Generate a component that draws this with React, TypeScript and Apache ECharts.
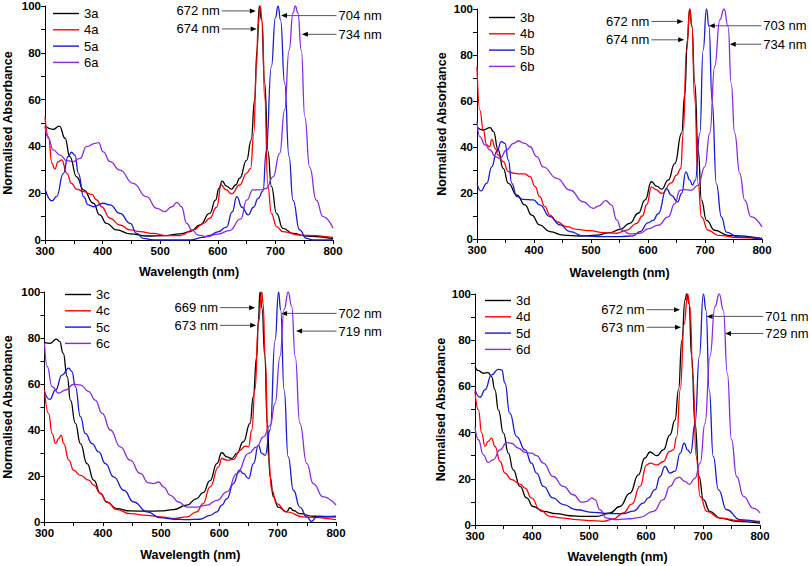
import React, { useEffect, useRef } from "react";
import * as echarts from "echarts";

type P = [number, number][];

// ---------- Panel a ----------
const s3a: P = [[300,48.7],[314,47.3],[325,48.7],[335,43.4],[343,35.6],[355,27],[367,21.4],[384,15.7],[395,10.7],[407,7.1],[424,4.3],[448,2.6],[476,1.7],[511,1.9],[534,2.6],[552,3.6],[569,6.4],[586,11.4],[596,17],[602,22],[607.5,25.2],[615,23],[623.7,21.7],[631,23.5],[638,26.4],[650,34],[658,42.7],[664,60],[668,81],[672,100],[676,94],[681.5,67],[687,38],[693,23],[702,11.4],[713,5],[730.6,2.8],[754,1.7],[800,0.6]];
const s4a: P = [[300,52.7],[306,44.2],[312,32.8],[317,30.3],[323,33.5],[329,34.2],[338,28.5],[346,24.2],[355,21.7],[367,20.7],[381,19.5],[390,17.1],[398,14.2],[413,9.3],[430,6.4],[448,4.3],[465,3.6],[488,2.8],[511,1.9],[534,1.9],[558,4.3],[575,7.1],[586,9.3],[598,14],[606,23.5],[614,21.5],[624,19.7],[638,23.5],[650,28.5],[657,30.6],[662.5,45.6],[667,74],[670,92],[673.5,100],[677,94],[681.5,60],[687,22.8],[693,11.4],[702,5.7],[713,3.6],[742,2.1],[800,1.1]];
const s5a: P = [[300,22],[312,16.7],[320,18.5],[332,28.5],[340,35.6],[346,37.5],[352,36.3],[358,28.5],[367,18.5],[375,15],[384,14.2],[401,15.7],[413,15],[430,11.4],[448,7.1],[459,2.8],[471,0.7],[488,0],[523,0],[552,0],[575,1.1],[586,2],[600,3.5],[615,5.5],[625,12],[633,18.5],[642,14],[652.6,10.7],[662,14],[670,17.8],[678.6,21],[684,38],[693,74],[700,95],[704.6,100],[709,94],[716,67],[723.7,35.6],[730.6,17],[742,4.3],[754,0.7],[765,0],[800,0]];
const s6a: P = [[300,48.4],[306,43.4],[314,38.5],[326,36.3],[338,33.9],[349,33.5],[361,34.9],[372,39.9],[387,41.3],[393,41.6],[401,37.7],[413,33.5],[430,29.9],[453,24.2],[476,18.5],[494,13.5],[508,12.1],[520,14.2],[529,16.1],[537,14.2],[546,7.1],[555,4.3],[566,2.1],[581,1.4],[600,2.5],[620,4],[640,9],[650,17],[661,21.4],[673,21.4],[684,22],[696,27],[707.5,37],[716,55.6],[723.7,81],[730.6,97],[734.6,100],[739,97],[745,81],[751,52.7],[759.5,31],[771,17],[782.7,10],[800,5]];

// ---------- Panel b ----------
const s3b: P = [[300,48.6],[311,47.4],[323,48.4],[329,46.7],[337,38.7],[346,30.7],[355,24.2],[370,19.1],[384,14.8],[396,10.4],[410,6.1],[428,3.2],[451,1.7],[481,1.3],[510,1.7],[533,2.8],[551,4.2],[568,6.8],[583,11.2],[595,17],[606,24.9],[615,23],[624,21.7],[635.5,25.6],[647,32.8],[659,46],[664.6,63],[669,86.6],[673,100],[677,92.4],[682,67.7],[688,38.7],[693.8,16.9],[702.6,8.1],[717,3.8],[740.5,1.6],[800,0.3]];
const s4b: P = [[300,75],[305,56],[311,47.4],[317,40.9],[322,40.1],[326,43.3],[332,39.4],[337,36.5],[346,33.6],[355,29.3],[364,28.6],[375,28.3],[384,28.3],[393,27.1],[402,22.8],[410,18.4],[419,14.1],[428,10.4],[440,7.5],[457,5.4],[475,4.2],[498,3.6],[522,2.8],[545,2.5],[563,3.9],[580,6.8],[590,10],[598,15],[606,22.7],[614,21.5],[624,19.8],[641,24.4],[650,27.8],[657.6,30.7],[661.7,46],[667.6,82],[673.4,100],[677,92.4],[682,60],[688,24],[693.8,9.6],[705.5,3.8],[723,1.6],[758,0.6],[800,0.2]];
const s5b: P = [[300,24.2],[307,20.9],[317,24.2],[326,31.4],[334.5,38],[343,42.3],[349,41.6],[355,34.3],[361,24.2],[370,18.4],[381,17.2],[399,17],[410,14.8],[428,9.7],[446,6.1],[463,3.2],[486.5,1.4],[521.6,1],[551,1],[574,1.4],[586,3.2],[600,7],[609,8.1],[618,11],[632.5,21.9],[641,19],[652,16.1],[659,19.8],[666.4,29.2],[673.4,25.6],[678,23.4],[683,25.6],[691,46],[696.7,82],[702.6,100],[707,92.4],[712.5,60],[720,24],[728.8,9.6],[737.6,3],[758,0.9],[800,0]];
const s6b: P = [[300,51],[305,44.5],[314,40.9],[323,38.7],[332,35.8],[340,35],[352,38.7],[364,41.6],[372.5,42.6],[384,41.6],[393,40.1],[405,35.8],[416,31.4],[440,26.4],[463,21.3],[486.5,16.2],[504,13.3],[513,14.3],[526,16.7],[536,14.8],[545,8.3],[554,3.9],[568,2.2],[586,2.5],[600,4.4],[618,6],[635.5,9.6],[647,15.4],[656,21.2],[664.6,21.5],[676,21.2],[688,23.4],[699.6,31.4],[708.4,46],[717,75],[726,95.3],[733.5,100],[740.5,92.4],[746,67.7],[752,46],[761,28.5],[769.6,16.9],[781,9.6],[800,5.2]];

// ---------- Panel c ----------
const s3c: P = [[300,78],[310,77.7],[320.5,79.5],[326,78.5],[332,73.4],[339,63.2],[344.5,53],[353,42.9],[361.6,34.1],[373,25.4],[384.5,18.2],[396,12.4],[407,8.7],[424,5.8],[447,4.8],[476,4.7],[498.6,4.8],[521.5,5.4],[544,7.3],[561,10.2],[572,12.8],[584,18],[595.7,25.4],[604,30.1],[613,28.3],[621,27.6],[630,29.8],[641,34.9],[652.7,42.9],[658,54.5],[664,71.9],[667,88],[669.5,100],[673,93],[678,72],[682,43],[687,19.6],[692.7,10.9],[701,6.5],[715.5,4.4],[721,6.2],[727,5],[738,3.6],[761,2.5],[800,2.2]];
const s4c: P = [[300,57.4],[307,47.2],[313,38.5],[319,34.1],[324.5,36.3],[328.5,37.8],[333,34.1],[341.7,26.9],[350,22.5],[361.6,20.3],[376,18.2],[384.5,16],[396,12.4],[407,8.7],[424,5.4],[447,3.6],[476,2.9],[498.6,2.2],[521.5,1.5],[544,2.2],[561,4.4],[572,8],[584,15.3],[598.5,24],[604,27.6],[613,26.9],[624,27.2],[635.6,31.2],[644,33],[650,32.7],[655.6,40],[661,57.4],[667,86.5],[672.5,100],[675,95],[678.4,72],[684,28.3],[690,13.8],[698,8],[715.5,4.4],[744,2.2],[800,1]];
const s5c: P = [[300,56.7],[309,53.3],[319,57.4],[330,63.9],[341.7,66.9],[347,65.4],[353,58.9],[361.6,45.8],[370,38.5],[381.6,34.1],[393,30.5],[404.5,25.4],[418.7,19.6],[436,13.8],[453,8.7],[476,4.4],[498.6,1.9],[521.5,1.2],[544,1],[567,1.2],[584,2.9],[595.7,4.4],[604,7.3],[613,10.2],[624,16.7],[634.5,22.5],[641,21.1],[650,18.9],[658.5,25.4],[667,33.4],[672.7,29.8],[678.4,29],[687,40],[695.5,79],[701.5,100],[705,92.3],[711,57.4],[718,28.3],[727,13.8],[738,6.5],[750,2.2],[758,0.3],[767,2.2],[800,2.5]];
const s6c: P = [[300,77.7],[304.6,67.6],[313,58.9],[324.5,56],[336,57.4],[350,59.9],[361.6,59.6],[376,56.7],[387,53],[399,47.2],[413,40],[430,32.7],[447,26.9],[464,21.1],[478.6,17],[487,16.7],[496,17.4],[504,15.3],[516,11.6],[530,8.7],[544,6.5],[561,6.5],[578.5,7.3],[595.7,9.4],[613,13.1],[630,21.1],[650,29.8],[664,32.7],[675.6,37],[687,42],[695.5,51.6],[704,72],[711,92.3],[718,100],[724,93.7],[730,72],[738,42.9],[750,25.4],[761,16.7],[778,10.9],[800,7.3]];

// ---------- Panel d ----------
const s3d: P = [[300,68.6],[306,66.8],[314.6,65.7],[323,66],[329,64.2],[335,58.5],[341,49.8],[350,39.8],[358.5,31.1],[367,23.9],[379,16.7],[390.6,11.7],[402,8],[420,5.9],[443,4.9],[467,4],[490,3.7],[513,3.7],[537,5.2],[554,8],[572,13.8],[586.6,21.7],[598,29],[607,31.6],[619,30],[630.4,32.5],[642,39],[651,45.5],[657,58.5],[663,80],[668.4,97.4],[671.4,100],[675.5,96],[680,73],[686,44],[693,21],[700.6,11],[712,5.9],[730,3],[759,1.6],[800,0.8]];
const s4d: P = [[300,57.8],[306,49.8],[311.7,39.8],[317.5,34],[323,36.2],[329,37.6],[335,34],[344,27.5],[352.6,22.5],[364,19.6],[379,17.7],[388,16],[399,11.7],[414,6.6],[431.6,3.7],[455,3],[478,2.3],[501.8,1.9],[525,1.6],[542.7,2.6],[560,5.2],[575,9],[589.5,16.7],[601,26],[607,26.8],[619,26],[630.4,27.5],[641,31.8],[648,32.5],[654,38.3],[660,58.5],[667,87],[673,100],[677.2,94.5],[682,65.7],[688,29.7],[695,12.4],[706.5,5.9],[730,3],[765,1.9],[800,1.6]];
const s5d: P = [[300,58.5],[309,55.3],[317.5,58.5],[329,65],[341,67.4],[347,67.1],[352.6,61.4],[361,48.4],[373,38.3],[388,32.5],[399,26.8],[408,22.5],[420,16.7],[437,11.7],[455,8.8],[478,6.6],[507.6,5.5],[537,4.9],[560,4.9],[578,6],[595.4,9.5],[604,11.7],[616,15.3],[624.6,21],[633.3,25.4],[642,22.5],[651,23.3],[660,31.1],[667,35.4],[673,32.5],[678.4,31.1],[686,44],[693.6,73],[700.6,100],[705.3,93],[711,58.5],[718,29.7],[727,15.3],[741.5,6.6],[765,2.3],[800,1.1]];
const s6d: P = [[300,42.4],[306,36.9],[314.6,30.4],[323,27.1],[332,28.2],[344,32.5],[355.6,35.7],[364,35.4],[376,33.3],[388,31.4],[399,31.1],[408,30],[420,26.8],[437,21],[455,16.7],[472.5,13.1],[487,9.9],[496,10.2],[505,11.7],[510.5,11],[519,6.6],[531,3],[548.5,2.3],[572,2.7],[589.5,3.3],[613,5.9],[630.4,11],[642,16.7],[654,20.3],[658,20.7],[668.4,18.9],[676,17.6],[686,20.3],[695,26.8],[703.5,44],[712.3,73],[721,94.5],[728.5,100],[735.6,93],[742.7,65.7],[750,36.9],[759,21],[771,12.4],[788,7.3],[800,5.2]];

// series names per panel
const namesA = ["3a", "4a", "5a", "6a"];
const namesB = ["3b", "4b", "5b", "6b"];
const namesC = ["3c", "4c", "5c", "6c"];
const namesD = ["3d", "4d", "5d", "6d"];

// x ticks / y ticks
const xMin = 300, xMax = 800, xStep = 100;
const yMin = 0, yMax = 100, yStep = 20;

// peak annotations: label, y level, arrow start x, arrow tip x (data units)
type Ann = { label: string; y: number; from: number; to: number; side: "left" | "right" };
const annA: Ann[] = [
  { label: "672 nm", y: 97.9, from: 607, to: 666, side: "left" },
  { label: "674 nm", y: 90.2, from: 607, to: 667.5, side: "left" },
  { label: "704 nm", y: 95.9, from: 806, to: 709.7, side: "right" },
  { label: "734 nm", y: 87.9, from: 806, to: 746, side: "right" },
];
const annB: Ann[] = [
  { label: "672 nm", y: 94.6, from: 606, to: 661.7, side: "left" },
  { label: "674 nm", y: 86.6, from: 606, to: 663.5, side: "left" },
  { label: "703 nm", y: 92.7, from: 798.8, to: 706.6, side: "right" },
  { label: "734 nm", y: 84.7, from: 798.8, to: 743.4, side: "right" },
];
const annC: Ann[] = [
  { label: "669 nm", y: 93.2, from: 601, to: 661.3, side: "left" },
  { label: "673 nm", y: 85.5, from: 601, to: 663, side: "left" },
  { label: "702 nm", y: 90.7, from: 801, to: 705.8, side: "right" },
  { label: "719 nm", y: 83, from: 801, to: 731.5, side: "right" },
];
const annD: Ann[] = [
  { label: "672 nm", y: 93.2, from: 601, to: 659.6, side: "left" },
  { label: "673 nm", y: 85.6, from: 601, to: 661.4, side: "left" },
  { label: "701 nm", y: 90.3, from: 805.8, to: 706.4, side: "right" },
  { label: "729 nm", y: 82.9, from: 805.8, to: 738.6, side: "right" },
];

const colors = ["#000000", "#ff0000", "#1a1ad2", "#8a2be2"];
const FONT = "'Liberation Sans', Arial, Helvetica, sans-serif";

const panels = [
  { names: namesA, data: [s3a, s4a, s5a, s6a], ann: annA,
    grid: { left: 45, top: 6, width: 288, height: 234 }, legend: { left: 53, top: 7 }, yGap: 31, xGap: 25 },
  { names: namesB, data: [s3b, s4b, s5b, s6b], ann: annB,
    grid: { left: 477, top: 9, width: 285, height: 230 }, legend: { left: 489, top: 11 }, yGap: 29, xGap: 27 },
  { names: namesC, data: [s3c, s4c, s5c, s6c], ann: annC,
    grid: { left: 44, top: 292, width: 292, height: 230 }, legend: { left: 65, top: 288 }, yGap: 30.5, xGap: 26 },
  { names: namesD, data: [s3d, s4d, s5d, s6d], ann: annD,
    grid: { left: 475, top: 294, width: 285, height: 231 }, legend: { left: 485, top: 294 }, yGap: 27, xGap: 25.5 },
];

export default function App() {
  const ref = useRef<HTMLDivElement>(null);
  useEffect(() => {
    if (!ref.current) return;
    const chart = echarts.init(ref.current, undefined, { renderer: "svg" });
    const axisCommon = {
      axisLine: { show: true, lineStyle: { color: "#000", width: 1 } },
      axisTick: { show: true, inside: false, length: 4, lineStyle: { color: "#000" } },
      minorTick: { show: true, splitNumber: 2, length: 4, lineStyle: { color: "#000" } },
      splitLine: { show: false },
      nameTextStyle: { fontFamily: FONT, fontWeight: "bold", fontSize: 12.5, color: "#000" },
    };
    const option: any = {
      animation: false,
      backgroundColor: "#ffffff",
      grid: panels.map((p) => ({ ...p.grid, containLabel: false })),
      xAxis: panels.map((p, i) => ({
        type: "value", gridIndex: i, min: xMin, max: xMax, interval: xStep,
        name: "Wavelength (nm)", nameLocation: "middle", nameGap: p.xGap,
        axisLabel: { fontFamily: FONT, fontWeight: "bold", fontSize: 11.5, color: "#000", margin: 5 },
        ...axisCommon,
      })),
      yAxis: panels.map((p, i) => ({
        type: "value", gridIndex: i, min: yMin, max: yMax, interval: yStep,
        name: "Normalised Absorbance", nameLocation: "middle", nameGap: p.yGap,
        axisLabel: { fontFamily: FONT, fontWeight: "bold", fontSize: 11.5, color: "#000", margin: 4 },
        ...axisCommon,
      })),
      legend: panels.map((p, i) => ({
        data: p.names.map((n, k) => ({ name: n, icon: "rect", itemStyle: { color: colors[k] } })),
        orient: "vertical", left: p.legend.left, top: p.legend.top,
        itemWidth: 26, itemHeight: 1.4, itemGap: 3.3, padding: 0,
        textStyle: { fontFamily: FONT, fontSize: 13, color: "#000", lineHeight: 12 },
        selectedMode: false,
      })),
      series: panels.flatMap((p, i) =>
        p.data.map((d, k) => ({
          name: p.names[k], type: "line", xAxisIndex: i, yAxisIndex: i,
          data: d, symbol: "none", showSymbol: false, smooth: 0.5, smoothMonotone: "x",
          lineStyle: { color: colors[k], width: 1.3 }, itemStyle: { color: colors[k] },
        }))
      ),
    };
    chart.setOption(option);

    const graphics: any[] = [];
    panels.forEach((p, i) => {
      p.ann.forEach((a) => {
        const p0 = chart.convertToPixel({ gridIndex: i } as any, [a.from, a.y]) as number[];
        const p1 = chart.convertToPixel({ gridIndex: i } as any, [a.to, a.y]) as number[];
        const dir = p1[0] > p0[0] ? 1 : -1;
        const headLen = 6, headW = 2.5;
        graphics.push({
          type: "line", silent: true,
          shape: { x1: p0[0], y1: p0[1], x2: p1[0] - dir * headLen, y2: p1[1] },
          style: { stroke: "#555", lineWidth: 1 },
        });
        graphics.push({
          type: "polygon", silent: true,
          shape: { points: [[p1[0], p1[1]], [p1[0] - dir * headLen, p1[1] - headW], [p1[0] - dir * headLen, p1[1] + headW]] },
          style: { fill: "#000" },
        });
        graphics.push({
          type: "text", silent: true,
          x: a.side === "left" ? p0[0] - 2 : p0[0] + 2, y: p0[1],
          style: {
            text: a.label, fontFamily: FONT, fontSize: 13, fill: "#000",
            align: a.side === "left" ? "right" : "left", verticalAlign: "middle",
          },
        });
      });
    });
    chart.setOption({ graphic: graphics });
    return () => chart.dispose();
  }, []);
  return (
    <div
      ref={ref}
      style={{ position: "fixed", left: 0, top: 0, width: 810, height: 566, background: "#fff" }}
    />
  );
}
